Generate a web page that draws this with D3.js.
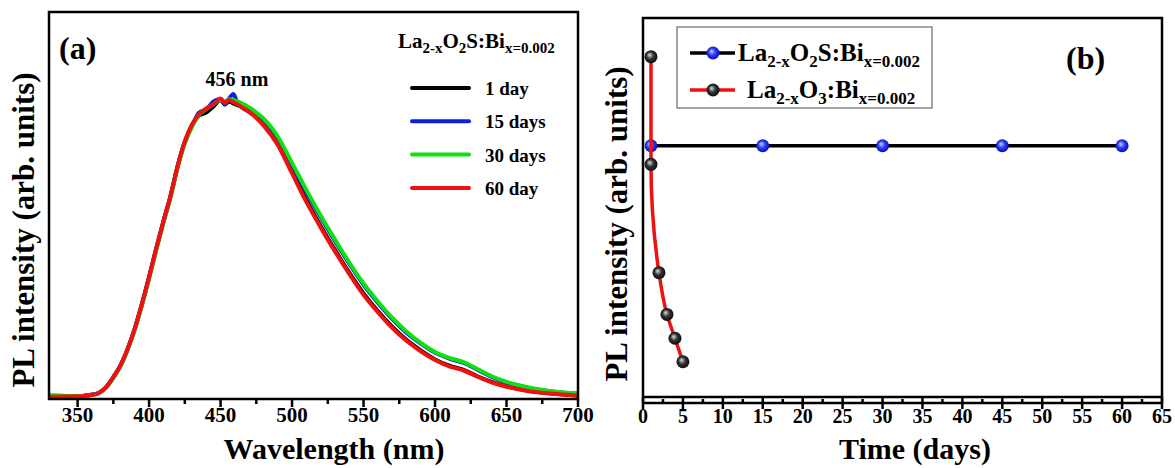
<!DOCTYPE html>
<html>
<head>
<meta charset="utf-8">
<script src="https://cdn.jsdelivr.net/npm/d3@7"></script>
<style>
  body { margin: 0; background: #fff; }
  text { font-family: "Liberation Serif", "Times New Roman", serif; font-weight: bold; fill: #000; }
</style>
</head>
<body>
<div id="main"></div>
<script>
// ---- panel (a) data: PL spectra after ageing ----
var wavelength = [330, 340, 350, 355, 360, 365, 370, 375, 380, 385, 390, 395, 400, 405, 410, 415, 420, 425, 430, 435,
  440, 445, 450, 453, 456, 459, 462, 465, 470, 475, 480, 490, 500, 510, 520, 530, 540, 550, 560, 570,
  580, 590, 600, 610, 620, 630, 640, 650, 660, 670, 680, 690, 700];
var day1 = [0.000, 0.001, 0.002, 0.004, 0.007, 0.014, 0.033, 0.066, 0.105, 0.160, 0.228, 0.310, 0.400, 0.495, 0.585, 0.670, 0.770, 0.850, 0.905, 0.938,
  0.948, 0.968, 0.990, 0.975, 0.985, 0.978, 0.972, 0.965, 0.950, 0.932, 0.908, 0.845, 0.752, 0.656, 0.570, 0.490, 0.414, 0.345, 0.286, 0.234,
  0.190, 0.155, 0.125, 0.104, 0.090, 0.068, 0.049, 0.035, 0.025, 0.017, 0.012, 0.008, 0.005];
var day15 = [0.002, 0.002, 0.002, 0.004, 0.007, 0.013, 0.032, 0.064, 0.104, 0.158, 0.226, 0.308, 0.398, 0.492, 0.582, 0.668, 0.768, 0.848, 0.902, 0.948,
  0.958, 0.985, 0.992, 0.975, 0.995, 1.010, 0.978, 0.972, 0.962, 0.945, 0.922, 0.862, 0.772, 0.684, 0.600, 0.520, 0.444, 0.374, 0.314, 0.260,
  0.214, 0.178, 0.147, 0.128, 0.113, 0.090, 0.066, 0.048, 0.036, 0.026, 0.019, 0.014, 0.011];
var day30 = [0.006, 0.004, 0.003, 0.004, 0.007, 0.013, 0.031, 0.063, 0.102, 0.157, 0.225, 0.305, 0.395, 0.490, 0.580, 0.665, 0.765, 0.845, 0.900, 0.940,
  0.960, 0.975, 0.990, 0.985, 0.992, 0.990, 0.985, 0.978, 0.965, 0.948, 0.928, 0.868, 0.780, 0.690, 0.605, 0.525, 0.448, 0.378, 0.318, 0.264,
  0.218, 0.180, 0.150, 0.130, 0.116, 0.092, 0.068, 0.050, 0.037, 0.027, 0.020, 0.015, 0.012];
var day60 = [0.000, 0.001, 0.002, 0.004, 0.007, 0.014, 0.033, 0.066, 0.105, 0.160, 0.228, 0.310, 0.400, 0.495, 0.585, 0.670, 0.770, 0.852, 0.908, 0.942,
  0.962, 0.975, 0.995, 0.980, 0.990, 0.982, 0.975, 0.965, 0.950, 0.930, 0.905, 0.840, 0.745, 0.650, 0.565, 0.485, 0.410, 0.340, 0.282, 0.230,
  0.187, 0.152, 0.123, 0.102, 0.088, 0.067, 0.048, 0.034, 0.024, 0.016, 0.011, 0.008, 0.005];
var specNames = ['1 day', '15 days', '30 days', '60 day'];
var specColors = ['#000000', '#0a1ee6', '#10e010', '#f01010'];
var wlTicks = [350, 400, 450, 500, 550, 600, 650, 700];

// ---- panel (b) data: intensity vs time ----
var sulfideDays = [1, 15, 30, 45, 60];
var sulfideVals = [0.663, 0.663, 0.663, 0.663, 0.663];
var oxideDays = [1, 1, 2, 3, 4, 5];
var oxideVals = [0.898, 0.614, 0.328, 0.218, 0.155, 0.093];
var dayTicks = d3.range(0, 66, 5);

var width = 1175, height = 468;

var svg = d3.select("#main").append("svg")
    .attr("width", width)
    .attr("height", height);

var defs = svg.append("defs");
function ball(id, light, mid, dark) {
  var g = defs.append("radialGradient").attr("id", id)
    .attr("cx", "0.5").attr("cy", "0.5").attr("r", "0.6")
    .attr("fx", "0.38").attr("fy", "0.35");
  g.append("stop").attr("offset", "0%").attr("stop-color", light);
  g.append("stop").attr("offset", "45%").attr("stop-color", mid);
  g.append("stop").attr("offset", "100%").attr("stop-color", dark);
}
ball("blueBall", "#c8d4ff", "#2a3cff", "#000088");
ball("blackBall", "#e0e0e0", "#333", "#000");

// ================= panel (a) =================
var ax = {left: 49, right: 578, top: 12, bottom: 399};
var xa = d3.scaleLinear().domain([330, 700]).range([ax.left, ax.right]);
var ya = d3.scaleLinear().domain([-0.007, 1.283]).range([ax.bottom, ax.top]);

var pa = svg.append("g");
var series = [day1, day15, day30, day60];
var lineA = d3.line()
  .x(function(d, i) { return xa(wavelength[i]); })
  .y(function(d) { return ya(d); })
  .curve(d3.curveMonotoneX);

pa.append("defs").append("clipPath").attr("id", "clipA")
  .append("rect").attr("x", ax.left).attr("y", ax.top)
  .attr("width", ax.right - ax.left).attr("height", ax.bottom - ax.top);

pa.append("g").attr("clip-path", "url(#clipA)")
  .selectAll("path").data(series).enter().append("path")
    .attr("d", lineA)
    .attr("fill", "none")
    .attr("stroke", function(d, i) { return specColors[i]; })
    .attr("stroke-width", 4)
    .attr("stroke-linejoin", "round");

pa.append("rect")
  .attr("x", ax.left).attr("y", ax.top)
  .attr("width", ax.right - ax.left).attr("height", ax.bottom - ax.top)
  .attr("fill", "none").attr("stroke", "#000").attr("stroke-width", 2.5);

// x axis ticks (major + minor pointing down)
var minorA = d3.range(350, 701, 25);
pa.selectAll(".tickA").data(minorA).enter().append("line")
  .attr("x1", function(d) { return xa(d); })
  .attr("x2", function(d) { return xa(d); })
  .attr("y1", ax.bottom)
  .attr("y2", function(d) { return ax.bottom + (d % 50 === 0 ? 8 : 5); })
  .attr("stroke", "#000").attr("stroke-width", 2.5);

pa.selectAll(".lblA").data(wlTicks).enter().append("text")
  .attr("x", function(d) { return xa(d); })
  .attr("y", 422)
  .attr("text-anchor", "middle")
  .style("font-size", "21px")
  .text(function(d) { return d; });

pa.append("text").attr("x", 334).attr("y", 459)
  .attr("text-anchor", "middle").style("font-size", "30px")
  .text("Wavelength (nm)");

pa.append("text")
  .attr("transform", "translate(34,230) rotate(-90)")
  .attr("text-anchor", "middle").style("font-size", "31px")
  .text("PL intensity (arb. units)");

pa.append("text").attr("x", 59).attr("y", 59).style("font-size", "32px").text("(a)");
pa.append("text").attr("x", 237).attr("y", 86).attr("text-anchor", "middle")
  .style("font-size", "20px").text("456 nm");

// legend (a)
function formula(sel, parts, big, small, drop) {
  parts.forEach(function(p, i) {
    var t = sel.append("tspan").text(p[0]).style("font-size", (p[1] ? small : big) + "px");
    if (p[1]) t.attr("dy", drop);
    else if (i > 0 && parts[i - 1][1]) t.attr("dy", -drop);
  });
}
var sulfideParts = [["La", 0], ["2-x", 1], ["O", 0], ["2", 1], ["S:Bi", 0], ["x=0.002", 1]];
var oxideParts = [["La", 0], ["2-x", 1], ["O", 0], ["3", 1], [":Bi", 0], ["x=0.002", 1]];

formula(pa.append("text").attr("x", 398).attr("y", 48), sulfideParts, 21, 15, 5);

var legA = pa.selectAll(".legA").data(specNames).enter().append("g")
  .attr("transform", function(d, i) { return "translate(0," + (88 + i * 33.3) + ")"; });
legA.append("line").attr("x1", 412).attr("x2", 469)
  .attr("stroke", function(d, i) { return specColors[i]; })
  .attr("stroke-width", 4).attr("stroke-linecap", "round");
legA.append("text").attr("x", 485).attr("y", 7)
  .style("font-size", "19px")
  .text(function(d) { return d; });

// ================= panel (b) =================
var bx = {left: 643, right: 1162, top: 18, bottom: 397};
var xb = d3.scaleLinear().domain([0, 65]).range([bx.left, bx.right]);
var yb = d3.scaleLinear().domain([0, 1]).range([bx.bottom, bx.top]);
var pb = svg.append("g");

pb.append("rect")
  .attr("x", bx.left).attr("y", bx.top)
  .attr("width", bx.right - bx.left).attr("height", bx.bottom - bx.top)
  .attr("fill", "none").attr("stroke", "#000").attr("stroke-width", 2.5);

// offset bottom axis
var axisY = 403;
pb.append("line").attr("x1", bx.left).attr("x2", bx.right)
  .attr("y1", axisY).attr("y2", axisY)
  .attr("stroke", "#000").attr("stroke-width", 2.5);
pb.append("line").attr("x1", bx.left).attr("x2", bx.left).attr("y1", bx.bottom).attr("y2", axisY)
  .attr("stroke", "#000").attr("stroke-width", 2.5);
pb.append("line").attr("x1", bx.right).attr("x2", bx.right).attr("y1", bx.bottom).attr("y2", axisY)
  .attr("stroke", "#000").attr("stroke-width", 2.5);
var minorB = d3.range(0, 65.1, 2.5);
pb.selectAll(".tickB").data(minorB).enter().append("line")
  .attr("x1", function(d) { return xb(d); })
  .attr("x2", function(d) { return xb(d); })
  .attr("y1", function(d) { return d % 5 === 0 ? axisY - 5 : axisY - 4; })
  .attr("y2", function(d) { return d % 5 === 0 ? axisY + 6 : axisY; })
  .attr("stroke", "#000").attr("stroke-width", 2.5);

pb.selectAll(".lblB").data(dayTicks).enter().append("text")
  .attr("x", function(d) { return xb(d); })
  .attr("y", 423)
  .attr("text-anchor", "middle")
  .style("font-size", "20px")
  .text(function(d) { return d; });

pb.append("text").attr("x", 915).attr("y", 459)
  .attr("text-anchor", "middle").style("font-size", "30px")
  .text("Time (days)");

pb.append("text")
  .attr("transform", "translate(627,224) rotate(-90)")
  .attr("text-anchor", "middle").style("font-size", "31px")
  .text("PL intensity (arb. units)");

pb.append("text").attr("x", 1066).attr("y", 69).style("font-size", "32px").text("(b)");

// series: sulfide (black line, blue balls)
var lineS = d3.line()
  .x(function(d, i) { return xb(sulfideDays[i]); })
  .y(function(d) { return yb(d); });
pb.append("path").datum(sulfideVals)
  .attr("d", lineS).attr("fill", "none")
  .attr("stroke", "#000").attr("stroke-width", 3.5);
pb.selectAll(".ptS").data(sulfideVals).enter().append("circle")
  .attr("cx", function(d, i) { return xb(sulfideDays[i]); })
  .attr("cy", function(d) { return yb(d); })
  .attr("r", 6.5).attr("fill", "url(#blueBall)");

// series: oxide (red line, black balls)
var lineO = d3.line()
  .x(function(d, i) { return xb(oxideDays[i]); })
  .y(function(d) { return yb(d); })
  .curve(d3.curveMonotoneY);
pb.append("path").datum(oxideVals)
  .attr("d", lineO).attr("fill", "none")
  .attr("stroke", "#f01010").attr("stroke-width", 3.5);
pb.selectAll(".ptO").data(oxideVals).enter().append("circle")
  .attr("cx", function(d, i) { return xb(oxideDays[i]); })
  .attr("cy", function(d) { return yb(d); })
  .attr("r", 6.5).attr("fill", "url(#blackBall)");

// legend (b)
pb.append("rect").attr("x", 677).attr("y", 27).attr("width", 255).attr("height", 81)
  .attr("fill", "#fff").attr("stroke", "#888").attr("stroke-width", 1.5);
var legB = [
  {y: 53, line: "#000", ball: "url(#blueBall)", tx: 738, parts: sulfideParts},
  {y: 90, line: "#f01010", ball: "url(#blackBall)", tx: 747, parts: oxideParts}
];
legB.forEach(function(l) {
  pb.append("line").attr("x1", 690).attr("x2", 735).attr("y1", l.y).attr("y2", l.y)
    .attr("stroke", l.line).attr("stroke-width", 3.5);
  pb.append("circle").attr("cx", 713).attr("cy", l.y).attr("r", 6.5).attr("fill", l.ball);
  formula(pb.append("text").attr("x", l.tx).attr("y", l.y + 8), l.parts, 25, 17, 6);
});
</script>
</body>
</html>
